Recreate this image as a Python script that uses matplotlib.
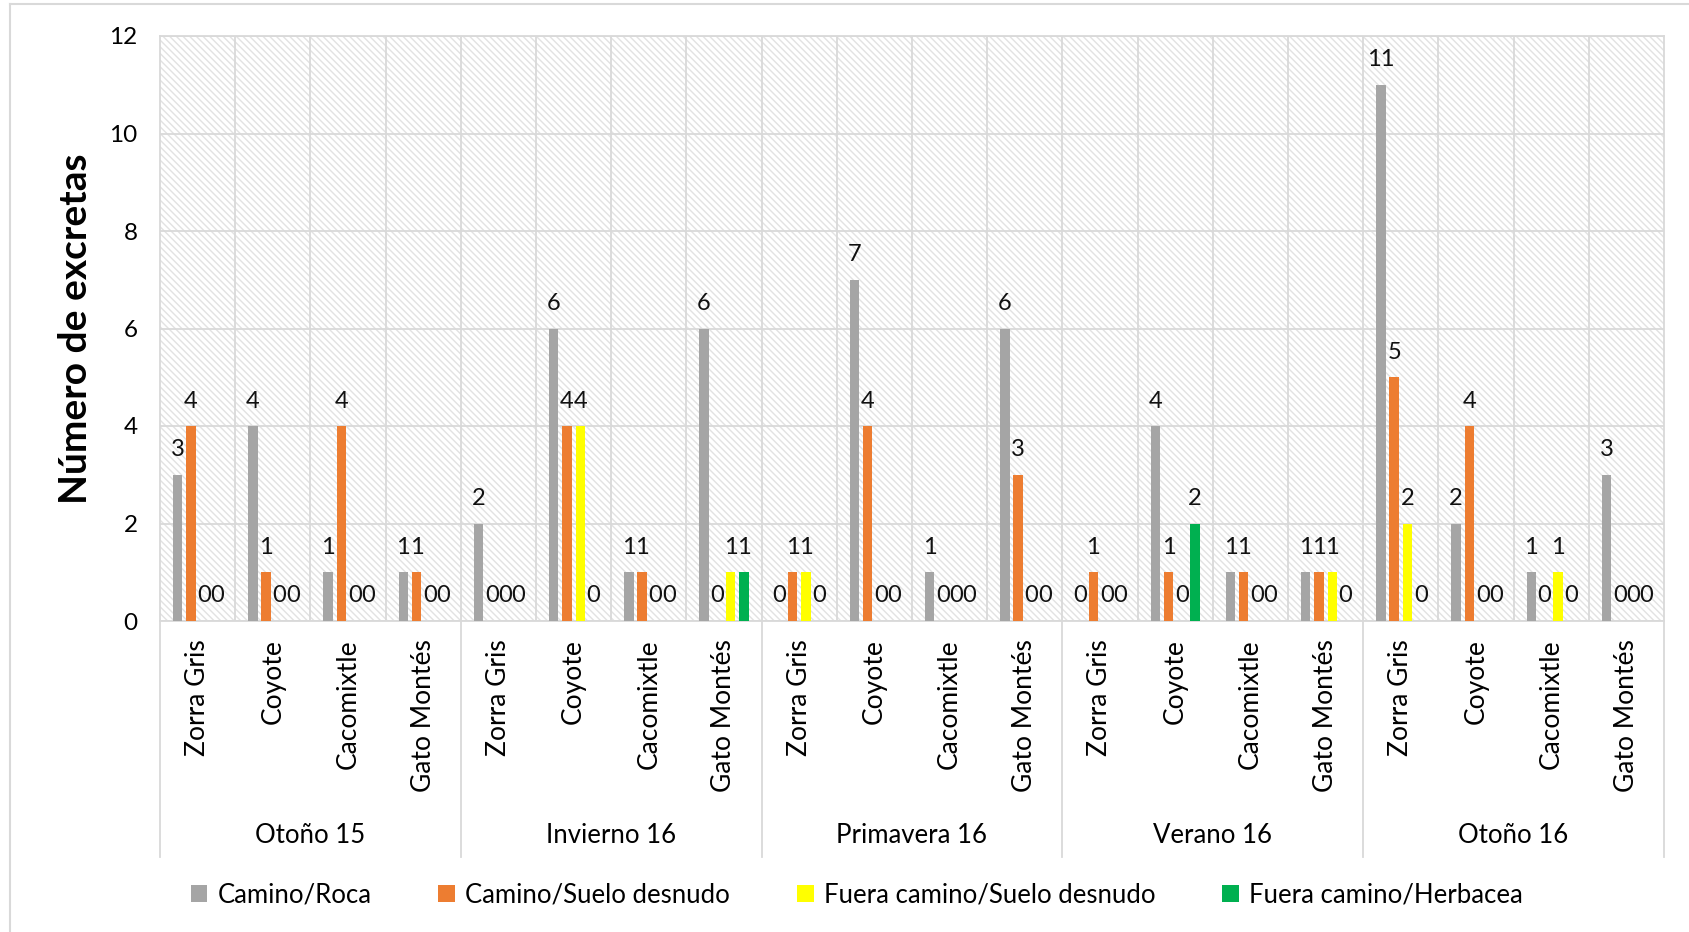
import numpy as np
import matplotlib
matplotlib.use("Agg")
import matplotlib.pyplot as plt
from matplotlib.patches import Rectangle, Patch
from matplotlib.lines import Line2D
import matplotlib.transforms as mtransforms

plt.rcParams['font.family'] = ['Lato', 'DejaVu Sans']
plt.rcParams['hatch.linewidth'] = 1.0

seasons = ['Otoño 15', 'Invierno 16', 'Primavera 16', 'Verano 16', 'Otoño 16']
species = ['Zorra Gris', 'Coyote', 'Cacomixtle', 'Gato Montés']
series_names = ['Camino/Roca', 'Camino/Suelo desnudo',
                'Fuera camino/Suelo desnudo', 'Fuera camino/Herbacea']

camino_roca  = [3, 4, 1, 1,  2, 6, 1, 6,  0, 7, 1, 6,  0, 4, 1, 1,  11, 2, 1, 3]
camino_suelo = [4, 1, 4, 1,  0, 4, 1, 0,  1, 4, 0, 3,  1, 1, 1, 1,  5, 4, 0, 0]
fuera_suelo  = [0, 0, 0, 0,  0, 4, 0, 1,  1, 0, 0, 0,  0, 0, 0, 1,  2, 0, 1, 0]
fuera_herb   = [0, 0, 0, 0,  0, 0, 0, 1,  0, 0, 0, 0,  0, 2, 0, 0,  0, 0, 0, 0]

colors = ['#A5A5A5', '#ED7D31', '#FFFF00', '#00B050']
grid_c = '#d9d9d9'

fig = plt.figure(figsize=(16.9, 9.32), dpi=100)
ax = fig.add_axes([160/1690, 1-621/932, (1664-160)/1690, (621-36)/932])

# hatched plot background
ax.add_patch(Rectangle((0, 0), 1, 1, transform=ax.transAxes, facecolor='white',
                       edgecolor='#e2e2e2', hatch='\\\\\\\\\\', linewidth=0, zorder=0))

n = len(camino_roca)
x = np.arange(n)
step = 0.177
width = 0.125
all_series = [camino_roca, camino_suelo, fuera_suelo, fuera_herb]
for i, (vals, c, name) in enumerate(zip(all_series, colors, series_names)):
    xs = x + (i - 1.5) * step
    ax.bar(xs, vals, width=width, color=c, zorder=3, label=name)
    for xv, v in zip(xs, vals):
        ax.annotate(str(v), (xv, v), xytext=(0, 18), textcoords='offset points',
                    ha='center', va='center', fontsize=17, color='#111111', zorder=4)

ax.set_xlim(-0.5, n - 0.5)
ax.set_ylim(0, 12)
ax.set_yticks(range(0, 13, 2))
ax.set_xticks(x)
ax.set_xticklabels(species * len(seasons), rotation=90, fontsize=19)
ax.set_xticks(np.arange(0.5, n - 0.5, 1), minor=True)
ax.tick_params(axis='x', which='both', length=0, pad=13)
ax.tick_params(axis='y', length=0, labelsize=17.5, pad=16)
ax.grid(True, axis='y', color=grid_c, linewidth=1.3, zorder=1)
ax.grid(True, axis='x', which='minor', color=grid_c, linewidth=1.3, zorder=1)
ax.set_axisbelow(True)
for s in ax.spines.values():
    s.set_color(grid_c)
    s.set_linewidth(1.3)

ax.set_ylabel('Número de excretas', fontsize=28, fontweight='bold', labelpad=12)

# season level of category axis
trans = mtransforms.blended_transform_factory(ax.transData, ax.transAxes)
for k, s in enumerate(seasons):
    ax.text(4 * k + 1.5, -0.367, s, transform=trans, ha='center', va='center', fontsize=18.5)
for k in range(len(seasons) + 1):
    ax.plot([4 * k - 0.5, 4 * k - 0.5], [0, -0.403], transform=trans, color=grid_c,
            linewidth=1.3, clip_on=False)

handles = [Patch(facecolor=c, edgecolor='none') for c in colors]
fig.legend(handles, series_names, loc='center', bbox_to_anchor=(0.507, 1 - 895/932),
           ncol=4, frameon=False, fontsize=18.5, handlelength=0.65, handleheight=0.65,
           handletextpad=0.4, columnspacing=2.6)

# chart border
fig.add_artist(Line2D([10/1690, 10/1690], [0, 1 - 4/932], color=grid_c, linewidth=1.5))
fig.add_artist(Line2D([10/1690, 1], [1 - 4/932, 1 - 4/932], color=grid_c, linewidth=1.5))

fig.savefig('out.png', dpi=100)
